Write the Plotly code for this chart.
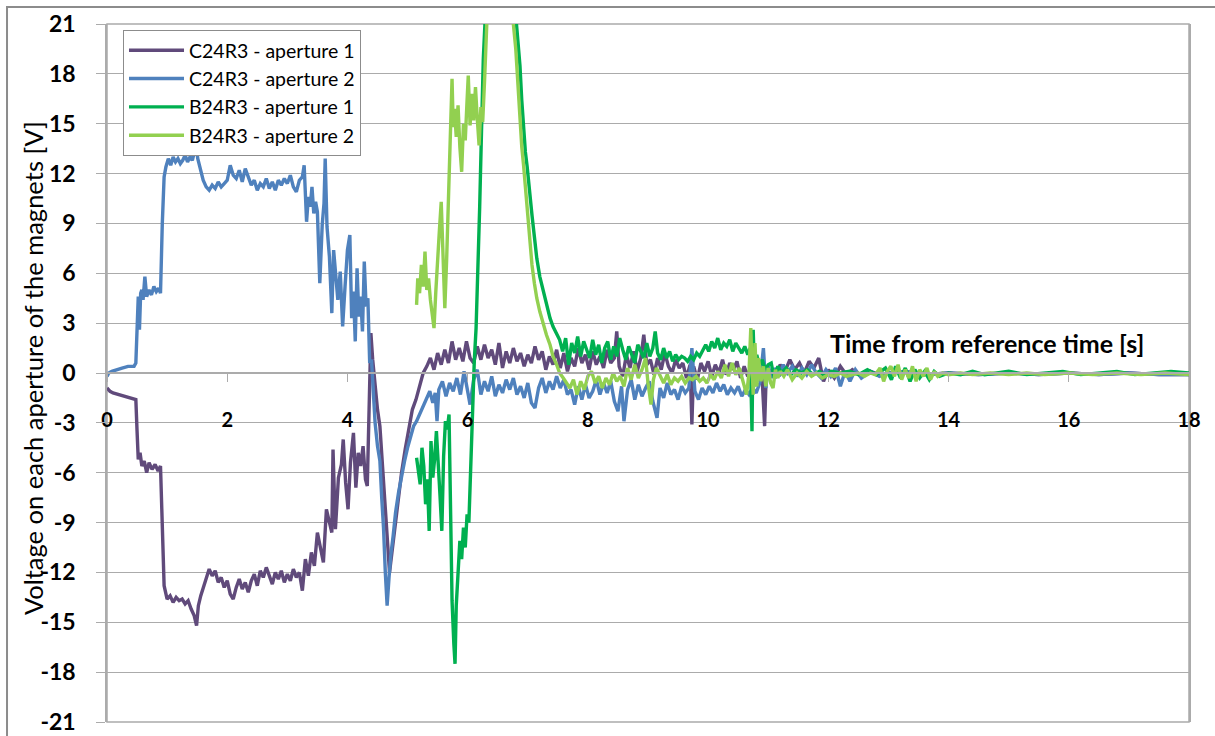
import plotly.graph_objects as go

# ---------------- data ----------------
series_names = ["C24R3 - aperture 1", "C24R3 - aperture 2",
                "B24R3 - aperture 1", "B24R3 - aperture 2"]
series_colors = ["#604A7B", "#4F81BD", "#00B050", "#92D050"]

x_ticks = [0, 2, 4, 6, 8, 10, 12, 14, 16, 18]
y_ticks = [-21, -18, -15, -12, -9, -6, -3, 0, 3, 6, 9, 12, 15, 18, 21]
y_tick_text = ["-21", "-18", "-15", "-12", "-9", "-6", "-3", "0", "3", "6", "9", "12", "15", "18", "21"]

c24_ap1_t = [
    0.00, 0.05, 0.10, 0.20, 0.30, 0.40, 0.48, 0.50, 0.52, 0.55, 0.58, 0.62, 0.66, 0.70, 0.75, 0.80, 0.85, 0.89,
    0.92, 0.95, 1.00, 1.05, 1.10, 1.15, 1.20, 1.25, 1.30, 1.35, 1.40, 1.45, 1.49, 1.52, 1.56, 1.60, 1.65, 1.70,
    1.75, 1.80, 1.85, 1.90, 1.95, 2.00, 2.05, 2.10, 2.15, 2.20, 2.25, 2.30, 2.35, 2.40, 2.45, 2.50,
    2.55, 2.60, 2.65, 2.70, 2.75, 2.80, 2.85, 2.90, 2.95, 3.00, 3.05, 3.10, 3.15, 3.20, 3.25, 3.30,
    3.35, 3.40, 3.45, 3.50, 3.55, 3.60, 3.65, 3.70, 3.74, 3.76, 3.80, 3.85,
    3.90, 3.93, 3.97, 4.01, 4.05, 4.10, 4.14, 4.18, 4.22, 4.26, 4.30, 4.33,
    4.36, 4.39, 4.42, 4.46, 4.50, 4.54, 4.58, 4.62, 4.66, 4.70, 4.74, 4.79, 4.84, 4.90, 4.96, 5.02,
    5.08, 5.14, 5.20, 5.26, 5.32,
    5.38, 5.44, 5.50, 5.56, 5.62, 5.68, 5.74, 5.80, 5.86, 5.92,
    5.98, 6.04, 6.10, 6.16, 6.22, 6.28, 6.34, 6.40, 6.46, 6.52,
    6.58, 6.64, 6.70, 6.76, 6.82, 6.88, 6.94, 7.00, 7.06, 7.12,
    7.18, 7.24, 7.30, 7.36, 7.42, 7.48, 7.54, 7.60, 7.66, 7.72,
    7.78, 7.84, 7.90, 7.96, 8.02, 8.08, 8.14, 8.20, 8.26, 8.32,
    8.38, 8.44, 8.48, 8.52, 8.58, 8.64, 8.70, 8.76, 8.82, 8.88,
    8.93, 8.98, 9.04, 9.10, 9.16, 9.22, 9.28, 9.34, 9.40, 9.46,
    9.52, 9.58, 9.64, 9.70, 9.73, 9.76, 9.82, 9.88, 9.94, 10.00,
    10.06, 10.12, 10.18, 10.24, 10.30, 10.36, 10.42, 10.48, 10.54, 10.60,
    10.66, 10.72, 10.78, 10.84, 10.90, 10.94, 10.97, 11.00,
    11.05, 11.12, 11.20, 11.28, 11.36, 11.44, 11.52, 11.60, 11.68, 11.76, 11.84, 11.92, 12.00, 12.10, 12.20, 12.30,
    12.40, 12.55, 12.70, 12.85, 13.00, 13.30, 13.60, 14.00, 14.50, 15.00, 15.50, 16.00, 16.50, 17.00, 17.50, 18.00,
]
c24_ap1_v = [
    -0.9, -1.1, -1.2, -1.3, -1.4, -1.5, -1.6, -3.5, -5.2, -4.8, -5.6, -5.3, -6.0, -5.4, -5.8, -5.5, -5.9, -5.6,
    -9.5, -12.8, -13.6, -13.4, -13.8, -13.5, -13.7, -13.6, -13.9, -13.7, -14.2, -14.6, -15.2, -14.0, -13.4, -12.9, -12.4, -11.8,
    -12.2, -11.9, -12.6, -12.3, -12.9, -12.5, -13.3, -13.6, -12.9, -12.4, -13.0, -12.6, -13.2, -12.5, -12.1, -12.8,
    -11.9, -12.3, -11.7, -12.2, -12.7, -12.0, -12.4, -11.9, -12.6, -12.1, -12.5, -11.8, -12.3, -12.0, -13.1, -11.2,
    -12.2, -10.8, -11.6, -9.6, -10.4, -11.4, -8.2, -9.0, -9.6, -4.6, -9.4, -6.3,
    -5.5, -4.0, -6.6, -8.2, -5.4, -3.6, -6.9, -4.8, -5.6, -4.4, -6.4, -6.8,
    -1.0, 2.4, 0.8, -1.0, -2.2, -3.2, -5.5, -8.0, -10.3, -12.0, -10.8, -9.2, -7.8, -6.0, -4.6, -3.3,
    -2.2, -1.6, -0.7, 0.0, 0.4,
    0.9, 0.2, 1.2, 0.5, 1.4, 0.6, 1.9, 0.8, 1.5, 0.7,
    1.9, 0.9, 0.6, 1.6, 0.8, 1.7, 0.9, 1.4, 0.5, 1.8,
    0.3, 1.3, 0.6, 1.5, 0.7, 1.2, 0.4, 1.1, 0.6, 1.6,
    0.8, 1.3, 0.2, 1.0, 0.5, 1.4, 0.3, 1.2, 0.1, 0.9,
    0.4, 1.5, 0.6, 1.1, 0.2, 1.3, 0.5, 1.0, 0.3, 1.4,
    0.6, 0.9, 2.5, 0.4, -0.2, 1.1, 0.3, 1.3, 0.1, 0.9,
    2.3, 0.5, 0.8, -0.1, 0.9, 0.2, 1.2, 0.4, 0.0, 0.8,
    0.3, 0.6, -0.3, 0.5, -3.1, 0.4, -0.4, 0.6, 0.1, 0.7,
    -0.2, 0.5, 0.0, 0.8, -0.1, 0.6, 0.2, 0.7, -0.3, 0.4,
    -0.2, 0.5, 0.0, 0.6, -0.4, -3.2, 0.3, -0.2,
    0.2, -0.3, 0.5, 0.1, 0.8, 0.2, 0.6, 0.0, 0.7, 0.3, 0.9, -0.5, 0.2, -0.3, 0.4, -0.1,
    0.2, -0.2, 0.1, -0.1, 0.0, 0.1, -0.1, 0.0, -0.1, 0.0, -0.1, 0.0, -0.1, 0.0, -0.1, -0.1,
]

c24_ap2_t = [
    0.00, 0.03, 0.08, 0.15, 0.25, 0.35, 0.45, 0.48, 0.50, 0.52, 0.54, 0.56, 0.58,
    0.60, 0.63, 0.66, 0.70, 0.74, 0.78, 0.82, 0.86, 0.89, 0.92, 0.95, 0.98,
    1.02, 1.06, 1.10, 1.14, 1.18, 1.22, 1.26, 1.30, 1.34, 1.38, 1.42, 1.46, 1.48, 1.51, 1.55, 1.60, 1.65,
    1.70, 1.75, 1.80, 1.85, 1.90, 1.95, 2.00, 2.05, 2.10, 2.15, 2.20,
    2.25, 2.30, 2.35, 2.40, 2.45, 2.50, 2.55, 2.60, 2.65, 2.70, 2.75,
    2.80, 2.85, 2.90, 2.95, 3.00, 3.05, 3.10, 3.15, 3.20, 3.25, 3.28,
    3.32, 3.35, 3.38, 3.41, 3.44, 3.47, 3.50, 3.54, 3.58, 3.61, 3.63,
    3.66, 3.70, 3.74, 3.77, 3.80, 3.84, 3.88, 3.92, 3.96, 4.00, 4.04,
    4.07, 4.10, 4.13, 4.16, 4.19, 4.22, 4.25, 4.28, 4.31, 4.34, 4.37,
    4.40, 4.43, 4.46, 4.50, 4.54, 4.57, 4.60, 4.63, 4.66, 4.69, 4.72, 4.76, 4.80, 4.85,
    4.90, 4.95, 5.00, 5.05, 5.10, 5.15, 5.20, 5.26, 5.32, 5.37, 5.42, 5.46, 5.49, 5.52,
    5.58, 5.64, 5.70, 5.76, 5.82, 5.88, 5.94, 6.00, 6.04, 6.10,
    6.16, 6.22, 6.28, 6.34, 6.40, 6.46, 6.52, 6.58, 6.64, 6.70,
    6.76, 6.82, 6.88, 6.94, 7.00, 7.06, 7.12, 7.18, 7.24, 7.30,
    7.36, 7.42, 7.48, 7.54, 7.60, 7.66, 7.72, 7.78, 7.84, 7.90,
    7.96, 8.02, 8.08, 8.14, 8.20, 8.26, 8.32, 8.38, 8.44, 8.50,
    8.56, 8.60, 8.66, 8.72, 8.78, 8.84, 8.90, 8.96, 9.02, 9.08,
    9.15, 9.20, 9.26, 9.32, 9.38, 9.44, 9.50, 9.56, 9.62, 9.68,
    9.73, 9.78, 9.84, 9.90, 9.96, 10.02, 10.08, 10.14, 10.20, 10.26,
    10.32, 10.38, 10.44, 10.50, 10.56, 10.62, 10.68, 10.74, 10.80, 10.86,
    10.92, 10.96, 11.00,
    11.06, 11.12, 11.18, 11.25, 11.32, 11.40, 11.48, 11.56, 11.64, 11.72, 11.80, 11.88,
    11.96, 12.04, 12.12, 12.20, 12.28, 12.36, 12.45, 12.55, 12.70, 12.85, 13.00,
    13.30, 13.60, 14.00, 14.50, 15.00, 15.50, 16.00, 16.50, 17.00, 17.50, 18.00,
]
c24_ap2_v = [
    -0.2, 0.0, 0.1, 0.2, 0.3, 0.4, 0.4, 0.6, 2.5, 4.6, 2.6, 4.8, 5.0,
    4.4, 5.8, 4.6, 5.0, 4.7, 5.2, 4.9, 5.1, 4.8, 9.0, 11.8, 12.4,
    12.9, 12.5, 13.0, 12.7, 12.9, 12.6, 12.8, 13.1, 12.7, 13.0, 12.8, 13.4, 13.7, 12.9, 12.3, 11.6, 11.2,
    11.0, 11.3, 11.1, 11.5, 11.2, 11.4, 11.6, 12.5, 11.9, 11.7, 12.2,
    11.5, 12.3, 11.8, 11.3, 11.6, 11.0, 11.4, 11.2, 11.7, 11.1, 11.5,
    11.0, 11.6, 11.3, 11.7, 11.4, 11.9, 11.2, 10.9, 11.6, 11.8, 12.5,
    9.1, 10.6, 10.0, 11.2, 9.6, 10.3, 9.7, 5.4, 8.9, 10.2, 12.9,
    8.8, 7.0, 3.6, 7.4, 5.8, 4.4, 6.1, 2.8, 5.2, 7.4, 8.3,
    3.3, 4.9, 1.9, 6.3, 3.4, 4.6, 2.5, 6.7, 4.0, 4.5, 0.6,
    0.8, -1.2, -3.0, -4.4, -5.3, -7.5, -9.3, -12.0, -14.0, -12.4, -11.0, -9.8, -8.4, -7.2,
    -6.2, -5.3, -4.5, -3.8, -3.2, -2.9, -2.5, -2.0, -1.6, -1.1, -1.8, -1.2, -2.9, -1.0,
    -0.5, -1.4, -0.6, -1.1, -0.3, -1.3, 0.1, -1.0, -1.9, -0.4,
    0.2, -1.3, -0.5, -1.1, -0.2, -1.4, -0.7, -1.2, -0.4, -1.0,
    -0.3, -1.3, -0.8, -1.5, -0.6, -1.8, -2.1, -0.9, -0.3, -1.2,
    -0.5, -1.0, -0.2, -0.9, -0.4, -1.3, -1.0, -1.9, -0.8, -1.6,
    -0.7, -1.5, -1.1, -0.4, -1.3, -0.6, -1.2, -0.5, -1.7, -2.3,
    -0.8, -2.9, -1.0, -0.4, -1.6, -0.7, -1.4, -0.9, -0.5, -1.7,
    -2.7, -0.9, -1.5, -0.6, -1.3, -1.0, -1.6, -0.8, -1.2, -0.9,
    1.5, -1.1, -1.6, -0.9, -1.3, -0.8, -1.2, -0.6, -1.1, -0.7,
    -1.3, -0.9, -1.2, -0.8, -1.4, -1.0, -1.3, -0.9, -1.2, -0.6,
    1.5, -0.9, 0.4,
    -0.3, 0.3, -0.2, 0.5, 0.0, 0.4, -0.2, 0.3, -0.1, 0.5, 0.0, -0.3,
    0.2, -0.2, 0.3, -0.8, 0.1, -0.5, 0.2, -0.3, 0.1, -0.2, 0.0,
    0.1, -0.1, 0.0, -0.1, 0.0, -0.1, 0.0, -0.1, 0.0, -0.1, -0.1,
]

b24_ap1_t = [
    5.15, 5.18, 5.21, 5.24, 5.27, 5.30, 5.33, 5.36, 5.39, 5.42,
    5.45, 5.48, 5.51, 5.54, 5.57, 5.60, 5.63, 5.66, 5.69, 5.71,
    5.74, 5.77, 5.79, 5.81, 5.84, 5.87, 5.90, 5.93, 5.96, 5.99,
    6.02, 6.05, 6.08, 6.11, 6.14, 6.17, 6.20, 6.23, 6.26, 6.30,
    6.40, 6.55, 6.70, 6.80,
    6.84, 6.87, 6.90, 6.93, 6.96, 6.99, 7.03, 7.07, 7.11, 7.15,
    7.20, 7.26, 7.31, 7.37, 7.42, 7.48, 7.53,
    7.58, 7.63, 7.68, 7.73, 7.78, 7.83, 7.88, 7.93, 7.98, 8.03,
    8.08, 8.13, 8.18, 8.23, 8.28, 8.33, 8.38, 8.43, 8.48, 8.53,
    8.58, 8.63, 8.68, 8.73, 8.78, 8.83, 8.88, 8.93, 8.98, 9.03,
    9.08, 9.12, 9.16, 9.21, 9.26, 9.31, 9.36, 9.41, 9.46, 9.51,
    9.56, 9.61, 9.66, 9.71, 9.76, 9.81, 9.86, 9.91, 9.96, 10.01,
    10.06, 10.11, 10.16, 10.21, 10.26, 10.31, 10.36, 10.41, 10.46, 10.51,
    10.56, 10.61, 10.66, 10.70, 10.73, 10.75, 10.78, 10.81, 10.85, 10.90,
    10.95, 11.00,
    11.05, 11.10, 11.16, 11.22, 11.30, 11.38, 11.46, 11.55, 11.65, 11.75,
    11.85, 11.95, 12.05, 12.20, 12.35, 12.50, 12.65, 12.80, 12.95, 13.05,
    13.12, 13.20, 13.28, 13.36, 13.44, 13.52, 13.60, 13.68, 13.76, 13.85,
    14.00, 14.20, 14.40, 14.60, 14.80, 15.00, 15.30, 15.60, 15.90, 16.20,
    16.50, 16.80, 17.10, 17.40, 17.70, 18.00,
]
b24_ap1_v = [
    -5.1, -5.8, -6.7, -4.5, -5.6, -7.9, -6.4, -9.5, -4.1, -6.3,
    -5.2, -3.5, -6.0, -7.4, -9.5, -5.0, -2.9, -3.4, -2.5, -8.5,
    -13.7, -16.3, -17.5, -14.0, -12.3, -10.1, -11.2, -9.3, -10.5, -8.5,
    -9.0, -5.3, -2.0, 0.7, 2.7, 6.0, 10.0, 14.5, 18.9, 22.0,
    26.0, 28.0, 25.0, 21.5,
    20.0, 18.5, 16.4, 14.5, 13.3, 12.4, 10.8, 9.5, 8.2, 6.9,
    5.8, 4.9, 4.0, 3.3, 2.8, 2.3, 2.0,
    1.3, 2.1, 0.5, 1.8, 1.2, 2.2, 1.0, 1.9, 1.4, 0.9,
    2.0, 1.1, 1.7, 0.6, 1.5, 1.9, 0.8, 1.6, 1.0, 2.1,
    1.4, 0.8, 1.6, 1.1, 0.6, 1.7, 1.3, 0.9, 1.8, 1.0,
    1.5, 2.5, 1.2, 0.8, 1.5, 0.9, 1.3, 0.7, 1.1, 0.8,
    1.0, 0.9, 0.7, 1.0, 0.8, 1.2, 1.0, 1.4, 1.7, 1.3,
    1.9, 1.5, 2.1, 1.4, 1.8, 1.6, 2.0, 1.3, 1.8, 1.5,
    1.2, 1.6, 1.1, 1.5, -3.5, 2.6, -0.8, 1.1, 0.4, 0.8,
    0.2, 0.5,
    0.6, -0.3, 0.4, 0.0, 0.3, -0.1, 0.2, 0.0, 0.2, -0.1,
    0.1, -0.2, 0.1, 0.0, 0.1, -0.1, 0.2, -0.1, 0.3, -0.4,
    0.4, -0.3, 0.3, -0.5, 0.2, -0.3, 0.1, -0.4, 0.1, -0.2,
    0.0, -0.1, 0.1, -0.1, 0.0, 0.1, -0.1, 0.0, 0.1, -0.1,
    0.0, 0.1, -0.1, 0.0, 0.1, 0.0,
]

b24_ap2_t = [
    5.15, 5.17, 5.20, 5.23, 5.26, 5.29, 5.32, 5.35, 5.38, 5.41,
    5.44, 5.47, 5.50, 5.53, 5.56, 5.59, 5.62, 5.65, 5.68, 5.70,
    5.72, 5.74, 5.76, 5.78, 5.81, 5.84, 5.87, 5.90, 5.93, 5.96,
    5.99, 6.01, 6.04, 6.07, 6.10, 6.13, 6.16, 6.19, 6.22, 6.25,
    6.28, 6.31, 6.34,
    6.45, 6.60, 6.72,
    6.76, 6.80, 6.83, 6.87, 6.90, 6.93, 6.96, 6.99, 7.03, 7.07,
    7.11, 7.15, 7.20, 7.26, 7.31, 7.37, 7.42, 7.48, 7.53, 7.59,
    7.64, 7.70,
    7.76, 7.82, 7.88, 7.94, 8.00, 8.06, 8.12, 8.18, 8.24, 8.30,
    8.36, 8.42, 8.48, 8.54, 8.60, 8.66, 8.72, 8.78, 8.84, 8.90,
    8.96, 9.00, 9.05, 9.09, 9.14, 9.20, 9.26, 9.32, 9.38, 9.44,
    9.50, 9.56, 9.62, 9.68, 9.74, 9.80, 9.86, 9.92, 9.98, 10.04,
    10.10, 10.16, 10.22, 10.28, 10.34, 10.40, 10.46, 10.52, 10.58, 10.64,
    10.68, 10.71, 10.73, 10.75, 10.78, 10.81, 10.84, 10.88, 10.92, 10.96,
    11.00, 11.04, 11.08, 11.12, 11.16, 11.20,
    11.26, 11.32, 11.40, 11.48, 11.56, 11.64, 11.72, 11.80, 11.90, 12.00,
    12.10, 12.20, 12.30, 12.40, 12.50, 12.60, 12.70, 12.78, 12.86, 12.92,
    12.98, 13.04, 13.10, 13.16, 13.22, 13.28, 13.34, 13.40, 13.46, 13.52,
    13.58, 13.64, 13.70, 13.76, 13.82, 13.90, 14.00, 14.20, 14.40, 14.70,
    15.00, 15.30, 15.60, 16.00, 16.40, 16.80, 17.20, 17.60, 18.00,
]
b24_ap2_v = [
    4.1, 5.7, 4.8, 6.5, 5.2, 7.3, 5.0, 5.7, 4.4, 3.7,
    2.7, 4.9, 7.1, 8.6, 10.3, 7.5, 3.9, 6.8, 10.5, 13.0,
    14.5, 17.7, 14.8, 15.9, 14.2, 16.1, 13.6, 12.1, 15.0, 14.0,
    16.4, 17.9, 14.9, 16.8, 15.2, 17.2, 15.3, 13.7, 16.0, 15.1,
    17.5, 20.0, 23.0,
    28.0, 29.0, 24.0,
    21.0, 19.5, 17.8, 14.9, 13.6, 12.5, 11.2, 10.1, 8.2, 6.5,
    5.4, 4.5, 3.7, 2.9, 2.3, 1.7, 1.0, 0.5, 0.0, -0.3,
    -0.6, -0.9,
    -0.4, -1.3, -0.5, -1.0, -0.2, 0.1, -0.6, -0.2, -0.9, -0.3,
    -0.7, 0.0, -0.5, -0.2, -0.8, 0.3, -0.4, 0.5, -0.3, 0.2,
    0.9, -0.6, -1.9, -0.4, 0.3, -0.2, -0.6, -0.1, -0.7, -0.3,
    -0.5, -0.2, -0.6, -0.3, -0.4, -0.2, -0.5, -0.3, -0.6, -0.1,
    -0.4, 0.1, -0.3, 0.5, -0.2, 0.6, -0.1, 0.3, -0.6, -1.3,
    0.0, 2.7, 0.5, -1.3, 1.8, -0.8, 0.9, -0.5, 0.4, -0.8,
    0.3, -0.6, -0.9, 0.2, -0.3, 0.1,
    -0.2, 0.2, -0.4, 0.0, -0.3, 0.1, -0.2, 0.0, -0.3, -0.1,
    -0.2, 0.0, -0.2, -0.1, 0.0, -0.2, 0.0, -0.1, 0.3, -0.5,
    0.1, 0.4, -0.2, 0.5, -0.4, 0.2, -0.3, 0.4, -0.5, 0.2,
    -0.2, 0.3, -0.4, 0.1, -0.2, 0.0, -0.1, 0.0, -0.1, 0.0,
    -0.1, 0.0, -0.1, 0.0, -0.1, 0.0, -0.1, 0.0, -0.1,
]

series_t = [c24_ap1_t, c24_ap2_t, b24_ap1_t, b24_ap2_t]
series_v = [c24_ap1_v, c24_ap2_v, b24_ap1_v, b24_ap2_v]
for tt, vv in zip(series_t, series_v):
    assert len(tt) == len(vv), (len(tt), len(vv))

# ---------------- figure ----------------
FONT = "Lato, 'Liberation Sans', Arial, sans-serif"
GRID = "#ABABAB"

fig = go.Figure()
for name, color, tt, vv in zip(series_names, series_colors, series_t, series_v):
    fig.add_trace(go.Scatter(x=tt, y=vv, mode="lines", name=name, legendgroup=name,
                             line=dict(color=color, width=3.4)))

fig.update_layout(
    width=1215, height=736,
    margin=dict(l=107, r=26, t=24, b=14, pad=0, autoexpand=False),
    paper_bgcolor="white", plot_bgcolor="white",
    font=dict(family=FONT, color="black"),
    showlegend=True,
    legend=dict(x=0.0148, y=0.9914, xanchor="left", yanchor="top",
                bgcolor="white", bordercolor="#8C8C8C", borderwidth=1,
                font=dict(family=FONT, size=19.5, color="black"),
                traceorder="grouped", tracegroupgap=0, itemwidth=55),
    xaxis=dict(range=[0, 18], tickvals=x_ticks, anchor="free", position=0.5,
               automargin=False,
               showline=True, linecolor=GRID, linewidth=1.5,
               ticks="outside", ticklen=8, tickcolor=GRID, tickwidth=1.3,
               showgrid=False, zeroline=False, ticklabelstandoff=21,
               tickfont=dict(family=FONT, size=20, weight="bold", color="black")),
    yaxis=dict(range=[-21, 21], tickvals=y_ticks, ticktext=y_tick_text, automargin=False,
               ticklabeloverflow="allow",
               showgrid=True, gridcolor=GRID, gridwidth=1.3,
               showline=True, linecolor=GRID, linewidth=1.5, mirror=True,
               ticks="outside", ticklen=9, tickcolor=GRID, tickwidth=1.3,
               zeroline=False, ticklabelstandoff=16,
               tickfont=dict(family=FONT, size=23, weight="bold", color="black")),
    shapes=[
        dict(type="rect", xref="paper", yref="paper", x0=-0.0924, x1=1.2, y0=-0.2, y1=1.0244,
             line=dict(color="#8C8C8C", width=2), fillcolor="rgba(0,0,0,0)", layer="below"),
        dict(type="rect", xref="paper", yref="paper", x0=0, x1=1, y0=0, y1=1,
             line=dict(color=GRID, width=1.5), fillcolor="rgba(0,0,0,0)", layer="below"),
    ],
    annotations=[
        dict(text="Time from reference time [s]", xref="paper", yref="paper",
             x=0.813, y=0.543, xanchor="center", yanchor="middle", showarrow=False,
             font=dict(family=FONT, size=25, weight="bold", color="black")),
        dict(text="Voltage on each aperture of the magnets [V]", xref="paper", yref="paper",
             x=-0.0684, y=0.507, xanchor="center", yanchor="middle", showarrow=False,
             textangle=-90, font=dict(family=FONT, size=25.5, color="black")),
    ],
)

fig.write_html("out.html", config={"displayModeBar": False},
               post_script="document.body.style.margin='0';")
